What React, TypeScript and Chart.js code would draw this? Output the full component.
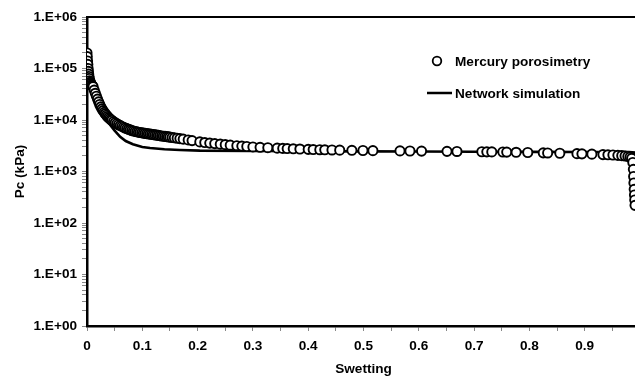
import { useEffect, useRef } from "react";
import { Chart, registerables } from "chart.js";
Chart.register(...registerables);

const FONT = "'Liberation Sans', Arial, sans-serif";
const FS = 13.6;

const mercurySw = [
  0, 0.0005, 0.001, 0.0015, 0.002, 0.0025, 0.003, 0.0035, 0.004, 0.005, 0.006, 0.007, 0.008, 0.009, 0.010, 0.011,
  0.013, 0.015, 0.017, 0.019, 0.021, 0.023, 0.025, 0.027, 0.029, 0.031, 0.033, 0.035, 0.037, 0.039, 0.041, 0.043,
  0.045, 0.048, 0.051, 0.054, 0.057, 0.060, 0.063, 0.066, 0.069, 0.072, 0.075, 0.078, 0.081, 0.084, 0.087, 0.090,
  0.093, 0.096, 0.099, 0.102, 0.105, 0.108, 0.111, 0.114, 0.117, 0.120, 0.123, 0.126, 0.129, 0.132, 0.135, 0.138,
  0.141, 0.144, 0.147, 0.150, 0.154, 0.158, 0.163, 0.168, 0.174, 0.183, 0.190, 0.204, 0.213, 0.222, 0.231, 0.241,
  0.250, 0.259, 0.271, 0.280, 0.289, 0.300, 0.313, 0.327, 0.344, 0.354, 0.362, 0.373, 0.385, 0.400, 0.409, 0.421,
  0.430, 0.443, 0.457, 0.479, 0.499, 0.517, 0.566, 0.584, 0.605, 0.651, 0.669, 0.714, 0.723, 0.732, 0.752, 0.759,
  0.776, 0.797, 0.825, 0.833, 0.855, 0.886, 0.895, 0.913, 0.933, 0.942, 0.951, 0.960, 0.967, 0.973, 0.978, 0.982,
  0.985, 0.987, 0.988, 0.9885, 0.989, 0.9895, 0.990, 0.9905, 0.991,
];
const mercuryPc = [
  200000, 170000, 140000, 120000, 100000, 88000, 78000, 70000, 64000, 58000, 54000, 51000, 48500, 46500, 45500, 44500,
  38000, 33000, 29000, 25500, 22500, 20000, 18000, 16500, 15200, 14100, 13200, 12400, 11700, 11100, 10600, 10200,
  9800, 9300, 8850, 8450, 8100, 7800, 7500, 7250, 7000, 6800, 6600, 6420, 6260, 6120, 6000, 5900,
  5800, 5720, 5640, 5570, 5500, 5440, 5380, 5320, 5260, 5200, 5140, 5080, 5020, 4960, 4900, 4850,
  4800, 4750, 4700, 4650, 4580, 4510, 4430, 4350, 4250, 4100, 3980, 3760, 3650, 3560, 3480, 3400,
  3320, 3250, 3170, 3110, 3060, 3000, 2950, 2900, 2840, 2810, 2790, 2760, 2730, 2690, 2670, 2650,
  2640, 2620, 2600, 2580, 2560, 2540, 2510, 2500, 2490, 2460, 2450, 2420, 2410, 2400, 2390, 2380,
  2360, 2340, 2300, 2290, 2260, 2220, 2200, 2170, 2130, 2110, 2090, 2060, 2030, 2000, 1960, 1900,
  1800, 1500, 1100, 800, 600, 450, 350, 280, 220,
];

const networkSw = [
  0, 0.003, 0.006, 0.01, 0.015, 0.02, 0.025, 0.03, 0.035, 0.042, 0.05, 0.06, 0.07, 0.083, 0.1, 0.114,
  0.14, 0.168, 0.204, 0.3, 0.4, 0.5, 0.6, 0.7, 0.8, 0.9, 0.98, 0.99, 0.995, 1.0,
];
const networkPc = [
  200000, 85000, 56000, 40000, 29000, 21500, 16500, 13000, 10500, 8000, 6200, 4700, 3900, 3390, 3000, 2860,
  2700, 2610, 2540, 2500, 2480, 2460, 2440, 2420, 2400, 2390, 2380, 2350, 200, 50,
];

const seriesLabels = ["Mercury porosimetry", "Network simulation"];
const yTickLabels = ["1.E+00", "1.E+01", "1.E+02", "1.E+03", "1.E+04", "1.E+05", "1.E+06"];
const xTickLabels = ["0", "0.1", "0.2", "0.3", "0.4", "0.5", "0.6", "0.7", "0.8", "0.9", "1"];
const xTitle = "Swetting";
const yTitle = "Pc (kPa)";

const isDecade = (v: number) => Math.abs(Math.log10(v) - Math.round(Math.log10(v))) < 1e-9;
const isTenth = (v: number) => Math.abs(v * 10 - Math.round(v * 10)) < 1e-6;

const framePlugin = {
  id: "frame",
  afterDraw(chart: any) {
    const { ctx, chartArea } = chart;
    ctx.save();
    ctx.strokeStyle = "#000";
    ctx.lineWidth = 2;
    ctx.beginPath();
    ctx.moveTo(chartArea.left, chartArea.top);
    ctx.lineTo(chartArea.right, chartArea.top);
    ctx.lineTo(chartArea.right, chartArea.bottom);
    ctx.stroke();
    ctx.restore();
  },
};

const legendPlugin = {
  id: "insideLegend",
  afterDraw(chart: any) {
    const { ctx } = chart;
    const ds = chart.data.datasets;
    ctx.save();
    ctx.font = `bold ${FS}px ${FONT}`;
    ctx.textBaseline = "middle";
    ctx.textAlign = "left";
    ctx.beginPath();
    ctx.arc(437, 61, 4.3, 0, Math.PI * 2);
    ctx.fillStyle = "#fff";
    ctx.fill();
    ctx.lineWidth = 1.8;
    ctx.strokeStyle = "#000";
    ctx.stroke();
    ctx.fillStyle = "#000";
    ctx.fillText(ds[0].label, 455, 62);
    ctx.beginPath();
    ctx.moveTo(427, 93);
    ctx.lineTo(452, 93);
    ctx.lineWidth = 2.5;
    ctx.stroke();
    ctx.fillText(ds[1].label, 455, 94);
    ctx.restore();
  },
};

export default function App() {
  const ref = useRef<HTMLCanvasElement>(null);
  useEffect(() => {
    if (!ref.current) return;
    Chart.defaults.font.family = FONT;
    const chart = new Chart(ref.current, {
      type: "scatter",
      data: {
        datasets: [
          {
            label: seriesLabels[0],
            data: mercurySw.map((x, i) => ({ x, y: mercuryPc[i] })),
            showLine: false,
            pointRadius: 4.6,
            pointBorderWidth: 1.9,
            pointBackgroundColor: "#fff",
            pointBorderColor: "#000",
            borderColor: "#000",
            backgroundColor: "#fff",
          },
          {
            label: seriesLabels[1],
            data: networkSw.map((x, i) => ({ x, y: networkPc[i] })),
            showLine: true,
            pointRadius: 0,
            borderWidth: 2.6,
            borderColor: "#000",
            tension: 0,
          },
        ],
      },
      options: {
        animation: false,
        responsive: false,
        devicePixelRatio: 1,
        layout: { padding: { left: 0, top: 17, right: 20, bottom: 0 } },
        plugins: { legend: { display: false }, tooltip: { enabled: false } },
        scales: {
          x: {
            type: "linear",
            min: 0,
            max: 1,
            afterFit(scale: any) {
              scale.height = 53;
            },
            afterBuildTicks(scale: any) {
              const t = [];
              for (let i = 0; i <= 20; i++) t.push({ value: i * 0.05 });
              scale.ticks = t;
            },
            ticks: {
              autoSkip: false,
              maxRotation: 0,
              padding: 7,
              color: "#000",
              font: { size: FS, weight: "bold" },
              callback: (v: any) => (isTenth(v) ? xTickLabels[Math.round(v * 10)] : ""),
            },
            grid: {
              drawOnChartArea: false,
              drawTicks: true,
              tickLength: 5,
              color: "#888",
            },
            border: { color: "#000", width: 2.5 },
            title: {
              display: true,
              text: xTitle,
              color: "#000",
              font: { size: FS, weight: "bold" },
              padding: { top: 0, bottom: 2 },
            },
          },
          y: {
            type: "logarithmic",
            min: 1,
            max: 1000000,
            afterFit(scale: any) {
              scale.width = 87;
            },
            afterBuildTicks(scale: any) {
              const t = [];
              for (let k = 0; k < 6; k++) {
                for (let m = 1; m <= 9; m++) t.push({ value: m * Math.pow(10, k) });
              }
              t.push({ value: 1000000 });
              scale.ticks = t;
            },
            ticks: {
              autoSkip: false,
              padding: 5,
              color: "#000",
              font: { size: FS, weight: "bold" },
              callback: (v: any) => (isDecade(v) ? yTickLabels[Math.round(Math.log10(v))] : ""),
            },
            grid: {
              drawOnChartArea: false,
              drawTicks: true,
              tickLength: 5,
              color: "#888",
            },
            border: { color: "#000", width: 2.5 },
            title: {
              display: true,
              text: yTitle,
              color: "#000",
              font: { size: FS, weight: "bold" },
              padding: { top: 12, bottom: 0 },
            },
          },
        },
      },
      plugins: [framePlugin, legendPlugin],
    } as any);
    return () => chart.destroy();
  }, []);
  return (
    <div style={{ position: "fixed", left: 0, top: 0, width: 635, height: 379, overflow: "hidden", background: "#fff" }}>
      <canvas ref={ref} width={660} height={379} style={{ display: "block", width: 660, height: 379 }} />
    </div>
  );
}
